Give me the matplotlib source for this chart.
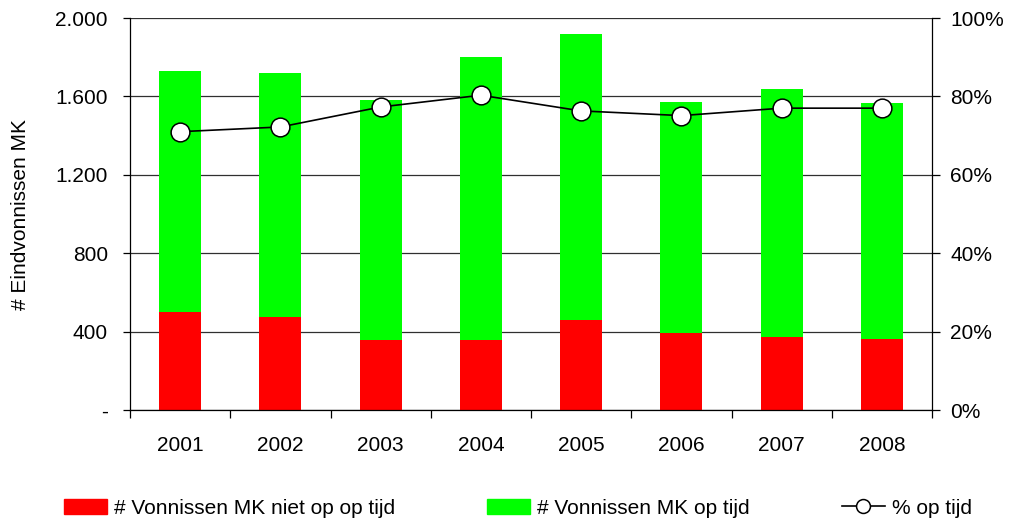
import numpy as np
import matplotlib
matplotlib.use('Agg')
import matplotlib.pyplot as plt
from matplotlib.lines import Line2D
from matplotlib.patches import Patch
from matplotlib.ticker import FixedLocator, FuncFormatter

years = ['2001', '2002', '2003', '2004', '2005', '2006', '2007', '2008']
niet_op_tijd = [502, 476, 357, 357, 459, 391, 374, 361]
op_tijd = [1228, 1243, 1225, 1444, 1459, 1180, 1264, 1205]
pct_op_tijd = [71.0, 72.2, 77.3, 80.3, 76.3, 75.1, 77.0, 77.0]
left_ticks = [0, 400, 800, 1200, 1600, 2000]
left_labels = ['-', '400', '800', '1.200', '1.600', '2.000']
right_ticks = [0, 20, 40, 60, 80, 100]

RED, GREEN = '#ff0000', '#00ff00'
FS = 15
plt.rcParams['font.family'] = ['Liberation Sans', 'DejaVu Sans']

fig = plt.figure(figsize=(10.1, 5.23), dpi=100)
ax = fig.add_axes([130 / 1010, 113 / 523, 802 / 1010, 392 / 523])
x = np.arange(len(years))

ax.bar(x, niet_op_tijd, 0.42, color=RED, zorder=2)
ax.bar(x, op_tijd, 0.42, bottom=niet_op_tijd, color=GREEN, zorder=2)
ax.set_xlim(-0.5, len(years) - 0.5)
ax.set_ylim(0, 2000)
ax.set_yticks(left_ticks)
ax.set_yticklabels(left_labels)
ax.grid(axis='y', color='#303030', lw=0.9, zorder=1)
ax.set_axisbelow(True)
for s in ('top', 'right'):
    ax.spines[s].set_visible(False)
ax.spines['left'].set_linewidth(0.9)
ax.spines['bottom'].set_linewidth(0.9)

# category boundaries as ticks, labels in between
ax.xaxis.set_major_locator(FixedLocator(np.arange(-0.5, len(years), 1.0)))
ax.xaxis.set_major_formatter(FuncFormatter(lambda v, p: ''))
ax.set_xticks(x, years, minor=True)
ax.tick_params(axis='x', which='major', length=6, width=0.9, direction='out')
ax.tick_params(axis='x', which='minor', length=0, pad=19, labelsize=FS)
ax.tick_params(axis='y', length=5, width=0.9, pad=11, labelsize=FS)
ax.set_ylabel('# Eindvonnissen MK', fontsize=FS, labelpad=18)

ax2 = ax.twinx()
ax2.plot(x, pct_op_tijd, color='black', lw=1.2, marker='o', ms=13.5,
         mfc='white', mec='black', mew=1.1, zorder=3)
ax2.set_ylim(0, 100)
ax2.set_yticks(right_ticks)
ax2.set_yticklabels([f'{t}%' for t in right_ticks])
ax2.tick_params(axis='y', length=6, width=0.9, pad=7, labelsize=FS)
for s in ('top', 'left', 'bottom'):
    ax2.spines[s].set_visible(False)
ax2.spines['right'].set_linewidth(0.9)

handles = [Patch(color=RED), Patch(color=GREEN),
           Line2D([], [], color='black', lw=1.2, marker='o', ms=10,
                  mfc='white', mec='black', mew=1.1)]
labels = ['# Vonnissen MK niet op op tijd', '# Vonnissen MK op tijd', '% op tijd']
fig.legend(handles, labels, loc='center', bbox_to_anchor=(518 / 1010, 15 / 523),
           ncol=3, frameon=False, fontsize=FS, handlelength=2.07,
           handleheight=0.75, handletextpad=0.34, columnspacing=4.4,
           borderaxespad=0)

fig.savefig('out.png', dpi=100)
